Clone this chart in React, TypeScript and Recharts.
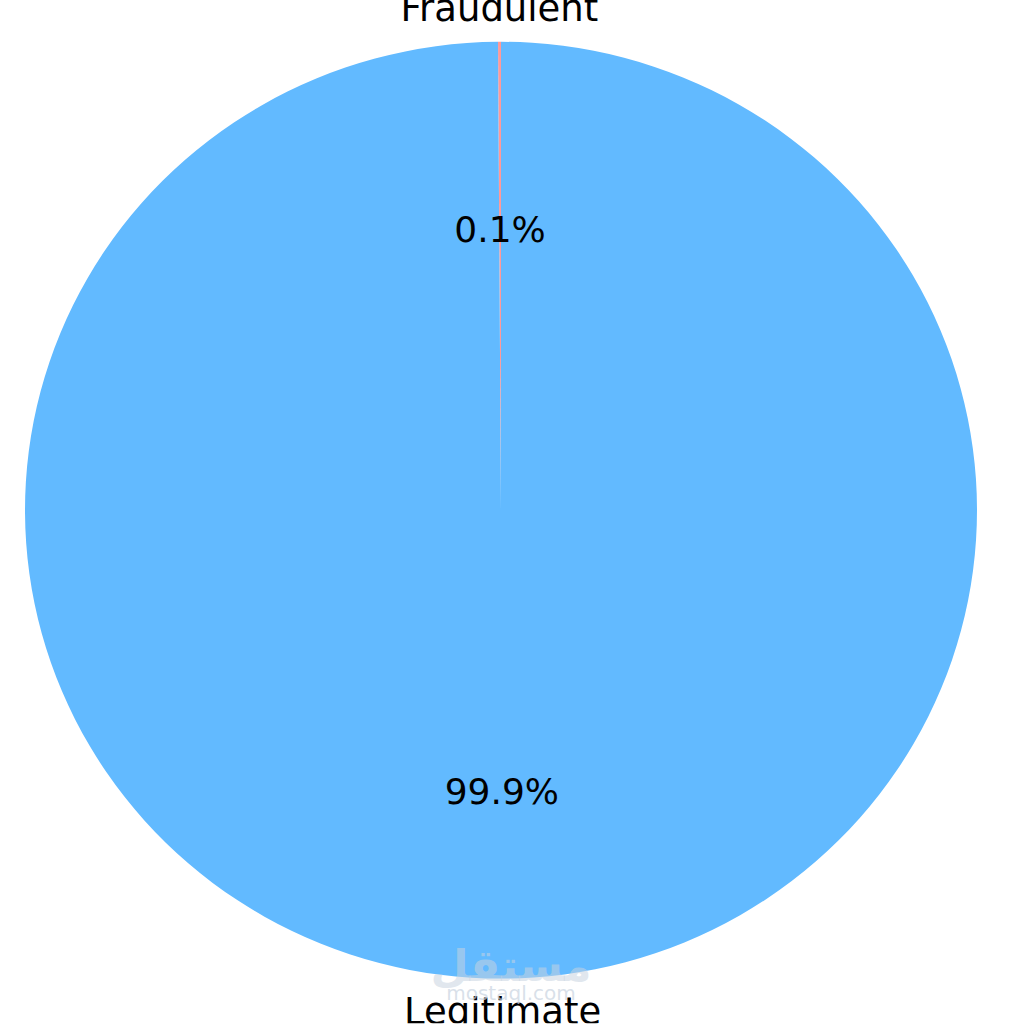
import React from "react";
import { PieChart, Pie, Cell } from "recharts";

const categories = ["Fraudulent", "Legitimate"];
const shares = [0.1, 99.9];
const colors = ["#ff9999", "#62baff"];

const data = categories.map((name, i) => ({ name, value: shares[i] }));

const RADIAN = Math.PI / 180;
const FONT = "DejaVu Sans, sans-serif";

const renderLabel = (props: any) => {
  const { cx, cy, midAngle, outerRadius, percent, name } = props;
  const cos = Math.cos(-midAngle * RADIAN);
  const sin = Math.sin(-midAngle * RADIAN);
  const rp = outerRadius * 0.6;
  const rn = outerRadius * 1.071;
  return (
    <g>
      <text
        x={cx + rp * cos}
        y={cy + rp * sin}
        textAnchor="middle"
        dominantBaseline="central"
        fontFamily={FONT}
        fontSize={36}
        fill="#000"
      >
        {(percent * 100).toFixed(1)}%
      </text>
      <text
        x={cx + rn * cos}
        y={cy + rn * sin}
        textAnchor="middle"
        dominantBaseline="central"
        fontFamily={FONT}
        fontSize={37}
        fill="#000"
      >
        {name}
      </text>
    </g>
  );
};

export default function App() {
  return (
    <div style={{ position: "absolute", left: 0, top: 0, width: 1024, height: 1024, background: "#fff", overflow: "hidden" }}>
      <div style={{ transform: "scaleY(0.984)", transformOrigin: "0 0" }}>
        <PieChart width={1024} height={1040} margin={{ top: 0, right: 0, bottom: 0, left: 0 }}>
          <Pie
            data={data}
            dataKey="value"
            nameKey="name"
            cx={501}
            cy={518.5}
            outerRadius={476}
            startAngle={90}
            endAngle={450}
            stroke="none"
            label={renderLabel}
            labelLine={false}
            isAnimationActive={false}
          >
            {data.map((d, i) => (
              <Cell key={d.name} fill={colors[i]} />
            ))}
          </Pie>
        </PieChart>
      </div>
      <svg width={1024} height={1024} style={{ position: "absolute", left: 0, top: 0, pointerEvents: "none" }}>
        <text x={511} y={965} textAnchor="middle" dominantBaseline="central" fontFamily="DejaVu Sans, sans-serif" fontWeight="bold" fontSize={44} fill="#c8d3e0" fillOpacity={0.55}>
          مستقل
        </text>
        <text x={511} y={993} textAnchor="middle" dominantBaseline="central" fontFamily="DejaVu Sans, sans-serif" fontSize={20} fill="#c8d3e0" fillOpacity={0.7}>
          mostaql.com
        </text>
      </svg>
    </div>
  );
}
